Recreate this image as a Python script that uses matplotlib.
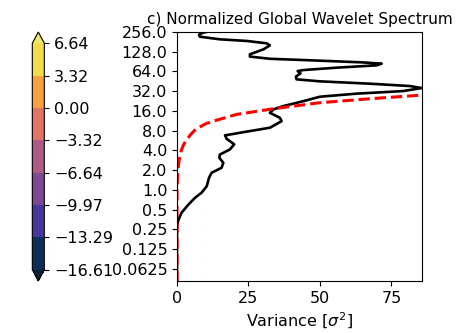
import numpy as np
import matplotlib
matplotlib.use("Agg")
import matplotlib.pyplot as plt
from matplotlib.colors import ListedColormap, BoundaryNorm
import matplotlib.cm as cm

# global wavelet spectrum (variance vs period)
gws_period = [262, 251, 233, 217, 198, 187, 172, 160, 139, 117, 108, 100, 93.6, 88,
              84.2, 79.4, 73.2, 67.3, 65, 60, 53.4, 48.6, 45.3, 41.7, 38.4, 35.8,
              32.2, 29.4, 26.4, 22.6, 19.0, 16.9, 15.0, 12.6, 11.2, 8.9, 7.6, 6.8,
              6.0, 5.1, 4.95, 4.15, 3.47, 3.10, 2.6, 2.18, 1.83, 1.53, 1.14, 0.91,
              0.76, 0.6, 0.45, 0.35, 0.29, 0.25, 0.1, 0.041]
gws_var = [11.5, 9.2, 7.7, 8.0, 15.0, 24.4, 31.4, 32.5, 30.2, 25.5, 25.5, 32.5, 50.0, 65.1,
           71.6, 69.8, 55.8, 44.2, 42.2, 43.2, 41.6, 41.8, 50.0, 67.5, 81.5, 85.6,
           79.1, 62.8, 50.0, 44.2, 37.2, 33.7, 32.5, 36.0, 36.6, 32.5, 23.2, 16.8,
           17.4, 19.7, 20.0, 18.5, 15.0, 14.8, 16.2, 15.6, 12.1, 11.2, 10.4, 8.6,
           6.3, 4.0, 1.6, 0.5, 0.1, 0.0, 0.0, 0.0]

# significance level (red dashed)
sig_period = [27.7, 24.6, 21.4, 17.3, 14.2, 11.2, 10.2, 8.4, 7.0, 5.8, 4.8, 4.0, 3.1,
              2.4, 1.7, 1.0, 0.041]
sig_var = [84.4, 67.5, 50.0, 33.7, 20.9, 12.7, 10.0, 6.5, 4.8, 3.3, 2.2, 1.5, 0.9,
           0.5, 0.2, 0.0, 0.0]

yticks = [0.0625, 0.125, 0.25, 0.5, 1.0, 2.0, 4.0, 8.0, 16.0, 32.0, 64.0, 128.0, 256.0]
ytick_labels = ['0.0625', '0.125', '0.25', '0.5', '1.0', '2.0', '4.0', '8.0',
                '16.0', '32.0', '64.0', '128.0', '256.0']
xticks = [0, 25, 50, 75]

# colour levels (log2 of power)
levels = [-16.61, -13.29, -9.97, -6.64, -3.32, 0.00, 3.32, 6.64]
colors = ['#0d2f57', '#4837a0', '#7b4a93', '#ae5a85', '#e07465', '#f9a040', '#f3dc4d']

fig = plt.figure(figsize=(4.57, 3.33), dpi=100)
ax = fig.add_axes([0.3873, 0.1562, 0.5361, 0.7477])
ax.plot(gws_var, gws_period, 'k-', lw=1.9)
ax.plot(sig_var, sig_period, 'r--', lw=2.2)
ax.set_yscale('log', base=2)
ax.set_ylim(0.041, 256)
ax.set_xlim(0, 85.7)
ax.set_yticks(yticks)
ax.set_yticklabels(ytick_labels)
ax.minorticks_off()
ax.set_xticks(xticks)
ax.tick_params(labelsize=11.5)
ax.set_xlabel(r'Variance [$\sigma^2$]', fontsize=11.5)
ax.set_title('c) Normalized Global Wavelet Spectrum', fontsize=11)

# colorbar
cmap = ListedColormap(colors)
cmap.set_under('#0b2236')
cmap.set_over('#ede86a')
norm = BoundaryNorm(levels, cmap.N)
cax = fig.add_axes([0.0707, 0.1562, 0.0263, 0.7477])
cb = fig.colorbar(cm.ScalarMappable(norm=norm, cmap=cmap), cax=cax,
                  extend='both', ticks=levels, orientation='vertical')
cb.ax.set_yticklabels([('%.2f' % l).replace('-', '\u2212') for l in levels])
cb.ax.tick_params(labelsize=11.5)

fig.savefig('out.png', dpi=100)
